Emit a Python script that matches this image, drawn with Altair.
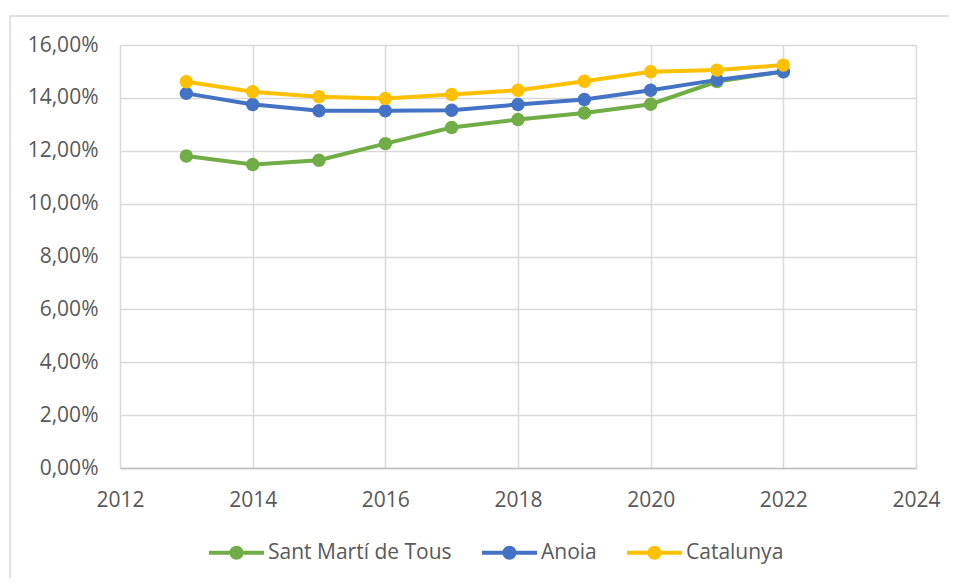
import altair as alt
import pandas as pd

years = [2013, 2014, 2015, 2016, 2017, 2018, 2019, 2020, 2021, 2022]
series_names = ["Sant Martí de Tous", "Anoia", "Catalunya"]
sant_marti = [11.80, 11.48, 11.64, 12.27, 12.88, 13.18, 13.43, 13.76, 14.62, 15.00]
anoia = [14.17, 13.75, 13.51, 13.51, 13.53, 13.75, 13.94, 14.29, 14.68, 14.99]
catalunya = [14.61, 14.23, 14.04, 13.98, 14.13, 14.29, 14.63, 14.99, 15.05, 15.24]
colors = ["#70AD47", "#4472C4", "#FFC000"]
x_ticks = [2012, 2014, 2016, 2018, 2020, 2022, 2024]
y_ticks = [0, 0.02, 0.04, 0.06, 0.08, 0.10, 0.12, 0.14, 0.16]

rows = []
for name, vals in zip(series_names, [sant_marti, anoia, catalunya]):
    for yr, v in zip(years, vals):
        rows.append({"year": yr, "value": v / 100.0, "series": name})
df = pd.DataFrame(rows)

FONT = "Open Sans"
TXT = "#595959"

color_scale = alt.Scale(domain=series_names, range=colors)

x_enc = alt.X("year:Q", scale=alt.Scale(domain=[2012, 2024], nice=False, zero=False),
              axis=alt.Axis(values=x_ticks, format="d", title=None, ticks=False,
                            domain=True, domainColor="#bfbfbf", domainWidth=1.5,
                            grid=True, gridColor="#d9d9d9", gridWidth=1.5,
                            labelFlush=False, labelOverlap=False,
                            labelFont=FONT, labelFontSize=21, labelColor=TXT,
                            labelPadding=21))
y_enc = alt.Y("value:Q", scale=alt.Scale(domain=[0, 0.16], nice=False),
              axis=alt.Axis(values=y_ticks, title=None, ticks=False, domain=False,
                            grid=True, gridColor="#d9d9d9", gridWidth=1.5,
                            labelFlush=False, labelOverlap=False,
                            labelExpr="replace(format(datum.value, '.2%'), '.', ',')",
                            labelFont=FONT, labelFontSize=21, labelColor=TXT,
                            labelPadding=22))

sym_path = ("M-1,-0.075L-0.25,-0.075L-0.25,0.075L-1,0.075Z"
            "M0.25,-0.075L1,-0.075L1,0.075L0.25,0.075Z"
            "M0.255,0A0.255,0.255,0,1,1,-0.255,0A0.255,0.255,0,1,1,0.255,0Z")

border = alt.Chart(alt.Data(values=[{"a": 1}])).mark_rect(
    fillOpacity=0, stroke="#d9d9d9", strokeWidth=1.5
).encode(x=alt.value(-110), x2=alt.value(850), y=alt.value(-29), y2=alt.value(560))

base = alt.Chart(df)
lines = base.mark_line(strokeWidth=4).encode(
    x=x_enc, y=y_enc,
    color=alt.Color("series:N", scale=color_scale, legend=None),
    detail="series:N",
)
points = base.mark_point(filled=True, opacity=1, size=180).encode(
    x=x_enc, y=y_enc,
    color=alt.Color("series:N", scale=color_scale,
                    legend=alt.Legend(orient="none", legendX=89, legendY=480,
                                      direction="horizontal", title=None,
                                      symbolType=sym_path, symbolSize=3025,
                                      symbolStrokeWidth=0, symbolOpacity=1,
                                      labelFont=FONT, labelFontSize=21,
                                      labelColor=TXT, labelOffset=4,
                                      labelLimit=0, columnPadding=30)),
)

chart = alt.layer(border, lines, points).resolve_scale(color="independent").properties(
    width=796, height=423,
    autosize=alt.AutoSizeParams(type="none"),
    padding={"left": 112, "top": 37, "right": 33, "bottom": 110},
).configure_view(stroke=None)

chart.save("out.html", embed_options={"renderer": "svg", "actions": False})
